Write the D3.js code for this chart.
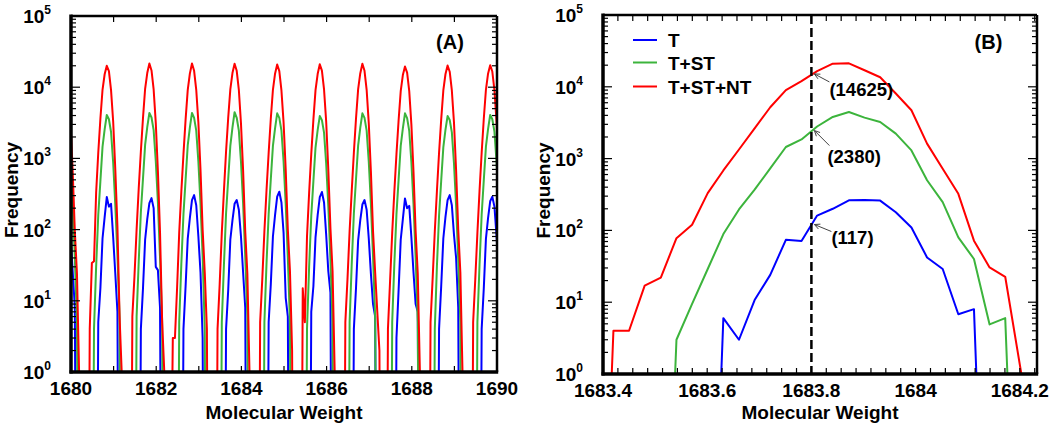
<!DOCTYPE html>
<html><head><meta charset="utf-8">
<script src="https://cdn.jsdelivr.net/npm/d3@7"></script>
<style>
body{margin:0;background:#fff}
text{font-family:"Liberation Sans",Arial,sans-serif;font-weight:bold;fill:#000}
</style>
</head><body>
<svg id="c" width="1050" height="427"></svg>
<script>
// ---------------- DATA ----------------
const seriesNames = ["T", "T+ST", "T+ST+NT"];
const seriesColors = ["#0000ff", "#3cb43c", "#ff0000"];

// Panel A: peaks (centre of each isotope cluster) and the offsets (Da) of the samples inside each peak
const aCenters = [1679.84, 1680.84, 1681.84, 1682.84, 1683.84, 1684.84, 1685.84, 1686.84, 1687.84, 1688.84, 1689.84];
const aOffsets = [-0.45, -0.40, -0.35, -0.30, -0.25, -0.20, -0.15, -0.10, -0.05, 0.00, 0.05, 0.10, 0.15, 0.20, 0.25, 0.30, 0.35, 0.40, 0.45];
const aT = [
  [0,0,0,0,0,4,16,70,140,240,280,205,80,26,8,0,0,0,0],
  [0,0,0,0,0,5,15,75,150,287,210,230,78,24,7,0,0,0,0],
  [0,0,0,0,0,4,15,72,140,235,277,200,30,27,8,0,0,0,0],
  [0,0,0,0,0,4,16,74,145,260,305,220,80,25,3,0,0,0,0],
  [0,0,0,0,0,4,14,72,135,230,260,190,80,25,8,0,0,0,0],
  [0,0,0,0,0,5,17,80,160,290,340,240,90,11,6,0,0,0,0],
  [0,0,0,0,0,7,16,78,160,285,337,240,85,26,13,0,0,0,0],
  [0,0,0,0,0,4,15,70,135,225,260,190,75,24,9,6,0,0,0],
  [0,0,0,0,0,3,14,72,140,274,200,215,78,25,9,7,0,0,0],
  [0,0,0,0,0,4,16,75,150,260,305,220,85,40,8,0,0,0,0],
  [0,0,0,0,0,4,15,74,145,250,290,210,80,25,8,0,0,0,0]
];
const aST = [
  [0,0,0,5,35,170,510,1480,2600,4200,3600,2400,880,225,40,5,0,0,0],
  [0,0,0,4,30,160,480,1450,2550,4070,3550,2350,870,220,44,6,0,0,0],
  [0,0,0,6,36,175,520,1550,2750,4350,3750,2500,920,240,40,5,0,0,0],
  [0,0,0,5,33,165,500,1520,2700,4350,3700,2450,900,230,42,4,0,0,0],
  [0,0,0,5,32,170,510,1500,2700,4460,3720,2450,900,235,42,6,0,0,0],
  [0,0,0,5,34,165,505,1500,2650,4300,3700,2450,910,230,40,5,0,0,0],
  [0,0,0,4,30,155,480,1420,2500,3930,3450,2300,850,215,38,5,0,0,0],
  [0,0,0,5,33,168,505,1510,2680,4300,3700,2450,900,230,42,6,0,0,0],
  [0,0,0,5,33,165,500,1500,2650,4300,3680,2430,890,228,41,5,0,0,0],
  [0,0,0,4,31,158,485,1430,2520,3930,3460,2320,860,218,39,5,0,0,0],
  [0,0,0,5,32,162,495,1460,2580,4070,3550,2380,880,225,40,5,0,0,0]
];
const aSTNT = [
  [0,5,18,90,350,1150,3500,9000,15000,20500,16500,9000,3100,650,95,24,1,0,0],
  [0,4,34,36,330,1200,3600,9200,15200,20000,16800,9100,3300,700,110,6,1,0,0],
  [0,6,22,100,380,1250,3700,9500,15800,21500,17200,9300,3150,660,90,5,1,0,0],
  [3,3,15,90,340,1150,3500,9100,15500,21500,17000,9200,3200,690,100,25,4,0,0],
  [0,4,17,90,350,1250,3700,9300,15800,21300,17000,9200,3100,680,95,24,1,0,0],
  [0,5,20,95,360,1200,3600,9200,15500,20800,16800,9000,3200,700,100,26,2,0,0],
  [0,15,5,80,330,1150,3500,9100,15300,21000,17100,9300,3300,700,105,26,1,0,0],
  [0,5,20,95,350,1200,3600,9300,15600,21300,17000,9200,3100,650,95,25,7,2,0],
  [0,4,19,90,340,1150,3400,8800,14800,19500,16000,8800,3000,650,95,24,1,0,0],
  [0,5,21,95,350,1200,3500,9000,15200,20200,16500,9000,3200,680,100,25,1,0,0],
  [0,5,20,90,350,1200,3600,9200,15500,20400,16600,9100,3200,680,100,25,1,0,0]
];

// Panel B: one peak, sampled every ~0.03 Da
const bMW = [1683.390,1683.420,1683.450,1683.480,1683.511,1683.541,1683.571,1683.601,1683.631,1683.661,
             1683.691,1683.721,1683.751,1683.781,1683.811,1683.841,1683.872,1683.902,1683.932,1683.962,
             1683.992,1684.022,1684.052,1684.082,1684.112,1684.142,1684.172,1684.203,1684.233];
const bT    = [0,0,0,0,0,0,0,0,6,3,10.7,24,74,71,161,200,262,265,260,179,110,42,29,6.8,8,0,0,0,0];
const bST   = [0,0,0,0,0,3,9.5,29,89,196,370,730,1450,1850,2800,3800,4450,3720,3240,2230,1300,500,247,80,40,4.9,6,0,0];
const bSTNT = [0,4,4,17,22,78,120,330,684,1340,2640,5190,8970,12000,16500,21000,21200,17000,13600,8060,4710,1615,723,323,72,30.5,22.6,1,0];

// marked molecular weight and the frequencies read there
const markMW = 1683.8;
const markValues = [117, 2380, 14625];

// axes
const aXDomain = [1680, 1690];
const aXTicks = [1680, 1682, 1684, 1686, 1688, 1690];
const aXMinor = [1681, 1683, 1685, 1687, 1689];
const bXDomain = [1683.4, 1684.233];
const bXTicks = [1683.4, 1683.6, 1683.8, 1684, 1684.2];
const yDecades = [1, 10, 100, 1000, 10000, 100000];
const panelLabels = ["(A)", "(B)"];
const xTitle = "Molecular Weight";
const yTitle = "Frequency";

// ---------------- DRAW ----------------
const svg = d3.select("#c");
const floorV = 1e-5; // zero counts drawn far below the axis (clipped)

function bMinorTicks() {
  const out = [];
  for (let i = 0; i < 4; i++) for (let j = 1; j < 7; j++) out.push(bXTicks[i] + j * 0.2 / 7);
  out.push(1684.2 + 0.2 / 7);
  return out;
}

function drawPanel(cfg) {
  const {L, R, T, B, xDomain, xTicks, xMinor, series, mw, id, label, titleX} = cfg;
  const x = d3.scaleLinear().domain(xDomain).range([L, R]);
  const y = d3.scaleLog().domain([1, 1e5]).range([B, T]);
  const g = svg.append("g");
  g.append("clipPath").attr("id", "clip" + id)
    .append("rect").attr("x", L).attr("y", T).attr("width", R - L).attr("height", B - T);

  const line = d3.line().x(d => x(d[0])).y(d => y(d[1] > 0 ? d[1] : floorV));
  series.forEach((vals, si) => {
    const pts = mw.map((m, i) => [m, vals[i]]);
    g.append("path").attr("clip-path", `url(#clip${id})`)
      .attr("d", line(pts)).attr("fill", "none")
      .attr("stroke", seriesColors[si]).attr("stroke-width", 2)
      .attr("stroke-linejoin", "round");
  });

  // y ticks (log) on both sides, inward
  const yt = g.append("g").attr("stroke", "#000").attr("stroke-width", 1.2);
  yDecades.forEach((d, i) => {
    yt.append("line").attr("x1", L).attr("x2", L + 9).attr("y1", y(d)).attr("y2", y(d));
    yt.append("line").attr("x1", R).attr("x2", R - 9).attr("y1", y(d)).attr("y2", y(d));
    if (i < yDecades.length - 1) {
      for (let m = 2; m <= 9; m++) {
        const v = d * m;
        yt.append("line").attr("x1", L).attr("x2", L + 5).attr("y1", y(v)).attr("y2", y(v));
        yt.append("line").attr("x1", R).attr("x2", R - 5).attr("y1", y(v)).attr("y2", y(v));
      }
    }
  });
  // x ticks top & bottom, inward
  const xt = g.append("g").attr("stroke", "#000").attr("stroke-width", 1.2);
  xTicks.concat(xMinor).forEach(v => {
    xt.append("line").attr("x1", x(v)).attr("x2", x(v)).attr("y1", B).attr("y2", B - 6);
    xt.append("line").attr("x1", x(v)).attr("x2", x(v)).attr("y1", T).attr("y2", T + 6);
  });

  // frame
  g.append("line").attr("x1", L).attr("x2", R).attr("y1", T).attr("y2", T).attr("stroke", "#000").attr("stroke-width", 2.5);
  g.append("line").attr("x1", R).attr("x2", R).attr("y1", T).attr("y2", B).attr("stroke", "#000").attr("stroke-width", 2.5);
  g.append("line").attr("x1", L).attr("x2", L).attr("y1", T - 1.5).attr("y2", B + 1.5).attr("stroke", "#000").attr("stroke-width", 3.5);
  g.append("line").attr("x1", L - 1.5).attr("x2", R + 1.2).attr("y1", B).attr("y2", B).attr("stroke", "#000").attr("stroke-width", 3.5);

  // labels
  xTicks.forEach(v => {
    g.append("text").attr("x", x(v)).attr("y", B + 23).attr("text-anchor", "middle")
      .style("font-size", "19px").text(d3.format("")(+v.toFixed(1)));
  });
  yDecades.forEach((d, i) => {
    const t = g.append("text").attr("x", L - 20).attr("y", y(d) + 7).attr("text-anchor", "end")
      .style("font-size", "19px");
    t.append("tspan").text("10");
    t.append("tspan").attr("dy", -9).style("font-size", "12px").text(String(i));
  });
  g.append("text").attr("x", (L + R) / 2).attr("y", 419).attr("text-anchor", "middle")
    .style("font-size", "19px").text(xTitle);
  g.append("text").attr("transform", `translate(${titleX},${(T + B) / 2 - 4}) rotate(-90)`)
    .attr("text-anchor", "middle").style("font-size", "19px").text(yTitle);
  g.append("text").attr("x", label.x).attr("y", label.y).attr("text-anchor", "middle")
    .style("font-size", "20px").text(label.text);
  return {x, y, g};
}

// Panel A data, arranged as points
const aMW = [];
aCenters.forEach(c => aOffsets.forEach(o => aMW.push(+(c + o).toFixed(3))));
const flat = arr => arr.reduce((acc, p) => acc.concat(p), []);

drawPanel({
  L: 71, R: 497, T: 16, B: 372, xDomain: aXDomain, xTicks: aXTicks, xMinor: aXMinor,
  series: [flat(aT), flat(aST), flat(aSTNT)], mw: aMW, id: "A",
  label: {x: 450, y: 49, text: panelLabels[0]}, titleX: 18
});

const pB = drawPanel({
  L: 603, R: 1037, T: 15, B: 374, xDomain: bXDomain, xTicks: bXTicks, xMinor: bMinorTicks(),
  series: [bT, bST, bSTNT], mw: bMW, id: "B",
  label: {x: 988.5, y: 49, text: panelLabels[1]}, titleX: 550
});

// dashed marker line
pB.g.append("line").attr("x1", pB.x(markMW)).attr("x2", pB.x(markMW))
  .attr("y1", 15).attr("y2", 374).attr("stroke", "#000").attr("stroke-width", 2.5)
  .attr("stroke-dasharray", "9,4");

// annotations
const annot = [
  {dx: 17, dy: 7, tx: 0, ty: 12},
  {dx: 15, dy: 15, tx: -2, ty: 17},
  {dx: 15, dy: 8, tx: 0, ty: 14}
];
markValues.forEach((v, i) => {
  const a = annot[i];
  const tipX = pB.x(markMW) + 3, tipY = pB.y(v) - 1;
  const tailX = tipX + a.dx, tailY = tipY + a.dy;
  const ang = Math.atan2(a.dy, a.dx);
  const ah = 6, spread = 0.45;
  const ag = pB.g.append("g").attr("stroke", "#444").attr("stroke-width", 1).attr("fill", "none");
  ag.append("line").attr("x1", tailX).attr("y1", tailY).attr("x2", tipX).attr("y2", tipY);
  ag.append("path").attr("d",
    `M${tipX + ah * Math.cos(ang + spread)},${tipY + ah * Math.sin(ang + spread)}L${tipX},${tipY}L${tipX + ah * Math.cos(ang - spread)},${tipY + ah * Math.sin(ang - spread)}`);
  pB.g.append("text").attr("x", tailX + a.tx).attr("y", tailY + a.ty)
    .style("font-size", "18.5px").text(`(${v})`);
});

// legend
const lg = svg.append("g");
seriesNames.forEach((n, i) => {
  const yy = [40, 62.5, 86.5][i];
  lg.append("line").attr("x1", 633).attr("x2", 657).attr("y1", yy).attr("y2", yy)
    .attr("stroke", seriesColors[i]).attr("stroke-width", 2);
  lg.append("text").attr("x", 668).attr("y", yy + 7).style("font-size", "19px").text(n);
});
</script>
</body></html>
